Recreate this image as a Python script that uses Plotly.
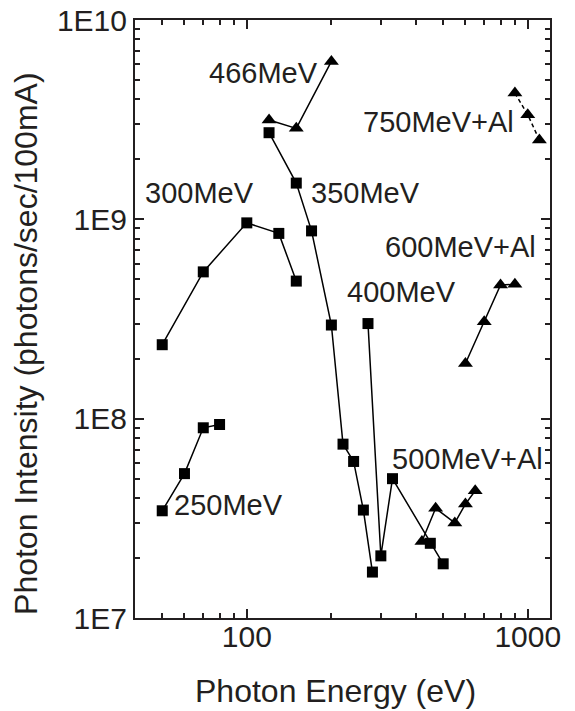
import plotly.graph_objects as go
import numpy as np

# ---- data ----
e250 = [50, 60, 70, 80]
i250 = [3.45e7, 5.3e7, 9.0e7, 9.35e7]

e300 = [50, 70, 100, 130, 150]
i300 = [2.35e8, 5.45e8, 9.6e8, 8.5e8, 4.9e8]

e350 = [120, 150, 170, 200, 220, 240, 260, 280]
i350 = [2.72e9, 1.52e9, 8.75e8, 2.95e8, 7.45e7, 6.1e7, 3.48e7, 1.7e7]

e400 = [270, 300, 330, 450, 500]
i400 = [3.0e8, 2.05e7, 5.0e7, 2.37e7, 1.87e7]

e466 = [120, 150, 200]
i466 = [3.15e9, 2.86e9, 6.2e9]

e500al = [420, 470, 550, 600, 650]
i500al = [2.42e7, 3.55e7, 3.0e7, 3.73e7, 4.35e7]

e600al = [600, 700, 800, 900]
i600al = [1.89e8, 3.06e8, 4.68e8, 4.72e8]

e750al = [900, 1000, 1100]
i750al = [4.3e9, 3.35e9, 2.5e9]

labels = ["250MeV", "300MeV", "350MeV", "400MeV", "466MeV",
          "500MeV+Al", "600MeV+Al", "750MeV+Al"]
label_x = [86, 68, 265, 355, 115, 612, 577, 483]
label_y = [3.7e7, 1.36e9, 1.36e9, 4.33e8, 5.42e9, 6.3e7, 7.3e8, 3.09e9]

x_ticks = [100, 1000]
x_ticktext = ["100", "1000"]
y_ticks = [1e7, 1e8, 1e9, 1e10]
y_ticktext = ["1E7", "1E8", "1E9", "1E10"]

x_title = "Photon Energy (eV)"
y_title = "Photon Intensity (photons/sec/100mA)"

FONT = "Liberation Sans, Arial, Helvetica, sans-serif"
INK = "#231f20"

fig = go.Figure()

def add(xs, ys, symbol, dash="solid"):
    if symbol == "square":
        marker = dict(symbol="square", size=11, color="black",
                      line=dict(width=0))
    else:
        marker = dict(symbol="triangle-up", size=13, color="black",
                      line=dict(width=0))
    fig.add_trace(go.Scatter(x=xs, y=ys, mode="lines+markers",
                             line=dict(color="black", width=1.5, dash=dash),
                             marker=marker, showlegend=False))

add(e250, i250, "square")
add(e300, i300, "square")
add(e350, i350, "square")
add(e400, i400, "square")
add(e466, i466, "triangle")
add(e500al, i500al, "triangle")
add(e600al, i600al, "triangle")
add(e750al, i750al, "triangle", dash="4px,3px")

for t, x, y in zip(labels, label_x, label_y):
    fig.add_annotation(x=np.log10(x), y=np.log10(y), text=t, showarrow=False,
                       xanchor="center", yanchor="middle",
                       font=dict(family=FONT, size=29, color=INK))

# axis titles
fig.add_annotation(xref="paper", yref="paper", x=0.4843, y=-0.1221,
                   text=x_title, showarrow=False, xanchor="center",
                   yanchor="middle", font=dict(family=FONT, size=32, color=INK))
fig.add_annotation(xref="paper", yref="paper", x=-0.264, y=0.459,
                   text=y_title, showarrow=False, textangle=-90,
                   xanchor="center", yanchor="middle",
                   font=dict(family=FONT, size=32, color=INK))

axis_common = dict(
    showgrid=False, zeroline=False, showline=True, linecolor=INK,
    linewidth=2, mirror="allticks", ticks="inside", ticklen=9, tickwidth=1.5,
    tickcolor=INK, tickfont=dict(family=FONT, size=30, color=INK),
    ticklabeloverflow="allow",
    minor=dict(dtick="D1", ticks="inside", ticklen=5, tickwidth=1.5,
               tickcolor=INK, showgrid=False),
)

fig.update_xaxes(type="log", range=[np.log10(40), np.log10(1200)],
                 tickmode="array", tickvals=x_ticks, ticktext=x_ticktext,
                 ticklabelstandoff=-9, **axis_common)
fig.update_yaxes(type="log", range=[7, 10],
                 tickmode="array", tickvals=y_ticks, ticktext=y_ticktext,
                 **axis_common)

fig.update_layout(width=575, height=711, plot_bgcolor="white",
                  paper_bgcolor="white",
                  margin=dict(l=127, r=33, t=12, b=101, autoexpand=False))

fig.write_html("out.html")
